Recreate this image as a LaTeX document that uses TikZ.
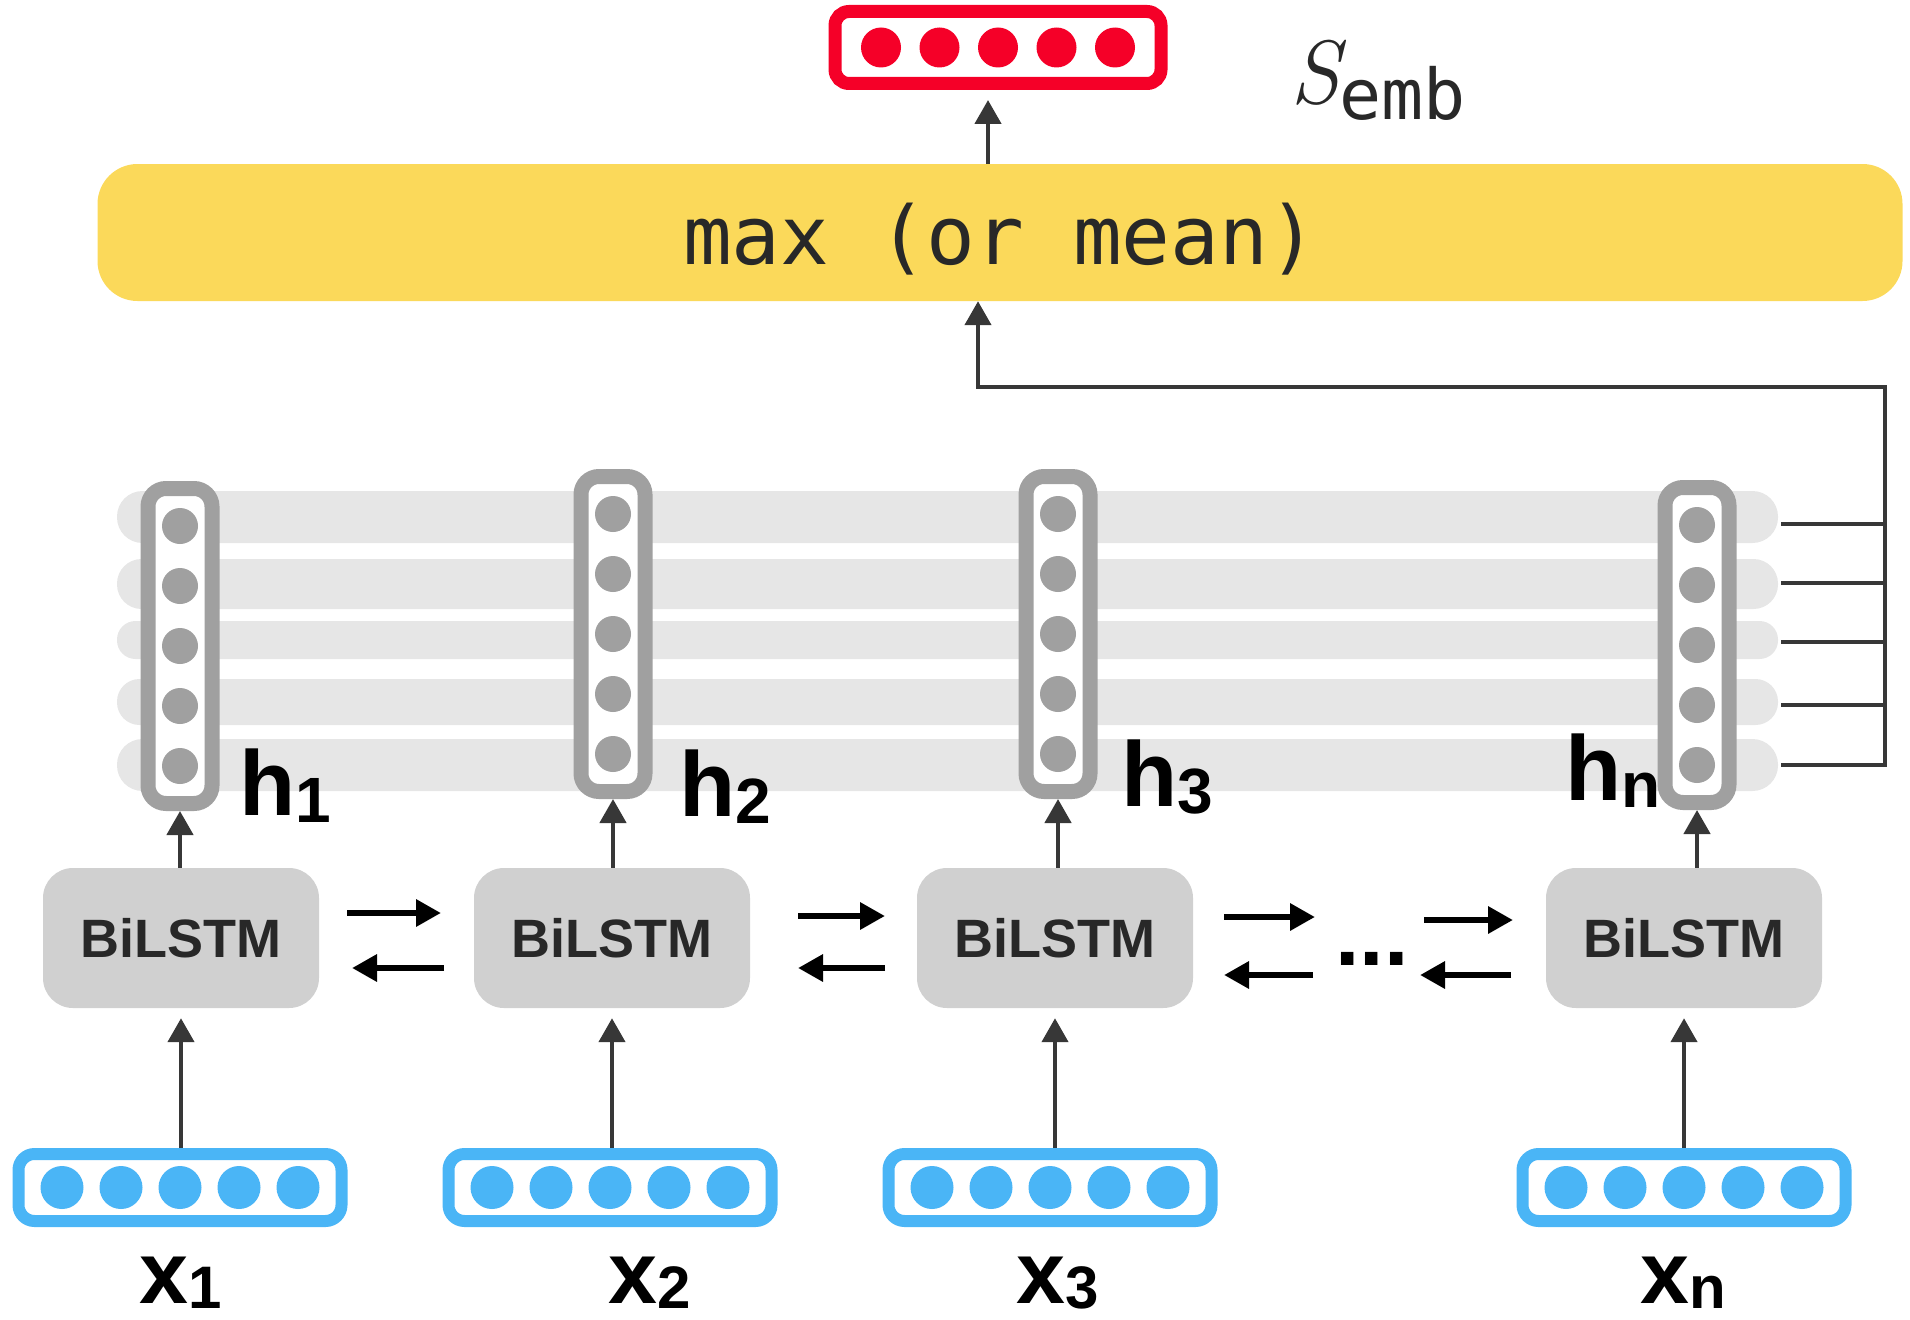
\documentclass[tikz,border=0pt]{standalone}
\usepackage{fontspec}
\newfontfamily\labfont{Liberation Sans}
\newfontfamily\monofont{DejaVu Sans Mono}
\usetikzlibrary{arrows.meta}
\definecolor{redc}{RGB}{245,0,40}
\definecolor{yelc}{RGB}{251,217,90}
\definecolor{bluec}{RGB}{74,181,246}
\definecolor{hgray}{RGB}{160,160,160}
\definecolor{bilgray}{RGB}{208,208,208}
\definecolor{bandgray}{RGB}{230,230,230}
\definecolor{linec}{RGB}{55,55,55}
\definecolor{txt}{RGB}{40,40,40}
\newcommand\hlab[2]{{\fontsize{92}{92}\selectfont #1}\raisebox{-7pt}{\fontsize{64}{64}\selectfont #2}}
\newcommand\xlab[2]{{\fontsize{88}{88}\selectfont #1}\raisebox{-5pt}{\fontsize{60}{60}\selectfont #2}}
\begin{document}
\begin{tikzpicture}[x=1pt,y=-1pt,
  yelbox/.style={rectangle, fill=yelc, rounded corners=40pt, minimum width=1805pt, minimum height=137pt, inner sep=0pt, font=\monofont\fontsize{81}{81}\selectfont, text=txt},
  redbox/.style={rectangle, draw=redc, line width=13pt, rounded corners=14pt, minimum width=326pt, minimum height=72pt, inner sep=0pt},
  xvec/.style={rectangle, draw=bluec, line width=12pt, rounded corners=16pt, minimum width=323pt, minimum height=67pt, inner sep=0pt, fill=white},
  hvec/.style={rectangle, draw=hgray, line width=15pt, rounded corners=18pt, minimum width=64pt, minimum height=315pt, inner sep=0pt, fill=white},
  bilbox/.style={rectangle, fill=bilgray, rounded corners=30pt, minimum width=276pt, minimum height=140pt, inner sep=0pt, font=\labfont\bfseries\fontsize{54}{54}\selectfont, text=txt},
  lab/.style={anchor=base west, inner sep=0pt, font=\labfont\bfseries, text=black},
  conn/.style={draw=linec, line width=4.5pt},
  thinarr/.style={draw=linec, line width=4.5pt, -{Triangle[length=24pt,width=26pt]}},
  harr/.style={draw=black, line width=6.5pt, -{Triangle[length=25pt,width=26pt]}}
]
\useasboundingbox (0,0) rectangle (1910,1319);

% pooling box and sentence embedding
\node[yelbox] (yel) at (1000,232.5) {\raisebox{-7pt}[\height][\depth]{max (or mean)}};
\node[redbox] (sem) at (998,47.5) {};
\foreach \i in {-2,...,2} \fill[redc] ([xshift=\i*58.5pt]sem.center) circle (20pt);
\node[anchor=base west, inner sep=0pt, text=txt] (semlab) at (1290,104)
  {{\fontsize{90}{90}\selectfont\itshape S}\raisebox{-16pt}{\monofont\fontsize{70}{70}\selectfont emb}};
\draw[thinarr] ([xshift=-10pt]sem.south |- yel.north) -- ([shift={(-10pt,-10pt)}]sem.south);

% gray bands
\foreach \yy/\hh/\rr in {517/52/25.5, 584/50/24.5, 640/38/18.5, 702/46/22.5, 765/52/25.5}
  \fill[bandgray, rounded corners=\rr pt] (117,{\yy-\hh/2}) rectangle (1778,{\yy+\hh/2});

% hidden state vectors
\node[hvec] (h1) at (180,646) {};
\node[hvec] (h2) at (613,634) {};
\node[hvec] (h3) at (1058,634) {};
\node[hvec] (h4) at (1697,645) {};
\foreach \n in {h1,h2,h3,h4}
  \foreach \j in {-2,...,2} \fill[hgray] ([yshift=\j*60pt]\n.center) circle (18pt);

% BiLSTM boxes
\node[bilbox] (b1) at (181,938) {BiLSTM};
\node[bilbox] (b2) at (612,938) {BiLSTM};
\node[bilbox] (b3) at (1055,938) {BiLSTM};
\node[bilbox] (b4) at (1684,938) {BiLSTM};

% input vectors
\node[xvec] (x1) at (180,1187.5) {};
\node[xvec] (x2) at (610,1187.5) {};
\node[xvec] (x3) at (1050,1187.5) {};
\node[xvec] (x4) at (1684,1187.5) {};
\foreach \n in {x1,x2,x3,x4}
  \foreach \i in {-2,...,2} \fill[bluec] ([xshift=\i*59pt]\n.center) circle (21.5pt);

% vertical arrows
\foreach \k in {1,2,3,4} {
  \draw[thinarr] (b\k.south |- x\k.north) -- ([yshift=-10pt]b\k.south);
  \draw[thinarr] (h\k.south |- b\k.north) -- (h\k.south);
}

% horizontal recurrent arrows
\coordinate (r1a) at (347,913);  \coordinate (r1b) at (441,913);
\coordinate (l1a) at (444,968);  \coordinate (l1b) at (352,968);
\coordinate (r2a) at (798,916);  \coordinate (r2b) at (885,916);
\coordinate (l2a) at (885,968);  \coordinate (l2b) at (798,968);
\coordinate (r3a) at (1224,917); \coordinate (r3b) at (1315,917);
\coordinate (l3a) at (1313,975); \coordinate (l3b) at (1224,975);
\coordinate (r4a) at (1424,920); \coordinate (r4b) at (1513,920);
\coordinate (l4a) at (1511,975); \coordinate (l4b) at (1420,975);
\foreach \k in {1,2,3,4} {
  \draw[harr] (r\k a) -- (r\k b);
  \draw[harr] (l\k a) -- (l\k b);
}
\node[anchor=base, inner sep=0pt, font=\labfont\bfseries\fontsize{88}{88}\selectfont] (ell) at (1372,965) {...};

% connector to pooling
\foreach \yy [count=\k] in {524,583,642,705,765} {
  \coordinate (ts\k) at (1781,\yy);
  \coordinate (te\k) at (1885,\yy);
  \draw[conn] (ts\k) -- (te\k);
}
\coordinate (cR) at (1885,387);
\coordinate (cL) at (978,387);
\draw[thinarr, line join=miter] ([yshift=-2pt]te5) -- (cR) -- (cL) -- (cL |- yel.south);

% labels
\node[lab] (lh1) at (239,815) {\hlab{h}{1}};
\node[lab] (lh2) at (679,816) {\hlab{h}{2}};
\node[lab] (lh3) at (1121,806) {\hlab{h}{3}};
\node[lab] (lh4) at (1565,800) {\hlab{h}{n}};
\node[lab] (lx1) at (139,1303) {\xlab{x}{1}};
\node[lab] (lx2) at (608,1303) {\xlab{x}{2}};
\node[lab] (lx3) at (1016,1303) {\xlab{x}{3}};
\node[lab] (lx4) at (1640,1303) {\xlab{x}{n}};
\end{tikzpicture}
\end{document}
